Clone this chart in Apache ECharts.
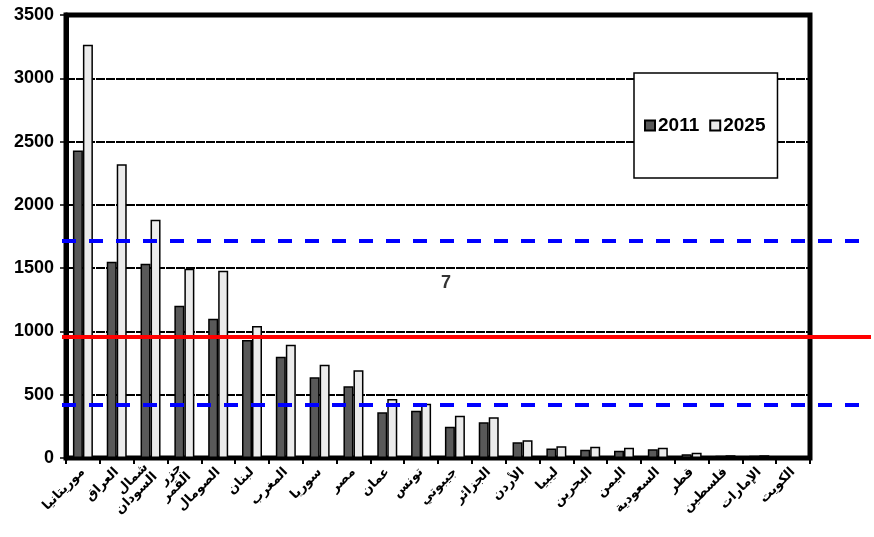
<!DOCTYPE html>
<html>
<head>
<meta charset="utf-8">
<script src="https://cdn.jsdelivr.net/npm/echarts@6/dist/echarts.min.js"></script>
<style>
html,body{margin:0;padding:0;background:#fff;}
#main{width:874px;height:537px;}
</style>
</head>
<body>
<div id="main"></div>
<script>
const categories = ['موريتانيا','العراق','شمال السودان','جزر القمر','الصومال','لبنان','المغرب','سوريا','مصر','عمان','تونس','جيبوتي','الجزائر','الأردن','ليبيا','البحرين','اليمن','السعودية','قطر','فلسطين','الإمارات','الكويت'];
const values2011 = [2430,1550,1535,1203,1100,932,800,637,566,361,374,247,282,124,76,66,58,69,29,18,18,3];
const values2025 = [3265,2320,1882,1495,1480,1043,895,737,693,466,429,334,321,140,92,89,81,81,42,22,22,5];
const meanValue = 956;
const bandValues = [1714, 419];
const noteText = '7';
const noteValue = 1382;

const chart = echarts.init(document.getElementById('main'));
const option = {
  animation: false,
  backgroundColor: '#fff',
  grid: { left: 66, right: 64, top: 15, bottom: 79, show: true, borderColor: '#000', borderWidth: 5, backgroundColor: 'transparent' },
  legend: {
    data: ['2011', '2025'],
    left: 634, top: 73,
    orient: 'horizontal',
    icon: 'rect', itemWidth: 10, itemHeight: 10, itemGap: 10,
    backgroundColor: '#fff', borderColor: '#000', borderWidth: 1.5,
    padding: [43, 12, 43, 10],
    textStyle: { fontFamily: 'Liberation Sans', fontWeight: 'bold', fontSize: 19, color: '#000', padding: [0, 0, 0, -2] }
  },
  xAxis: {
    type: 'category', data: categories,
    axisLine: { lineStyle: { color: '#000', width: 4 } },
    axisTick: { show: true, length: 6, lineStyle: { color: '#000', width: 2 } },
    axisLabel: {
      interval: 0, rotate: 45, margin: 12,
      fontFamily: 'DejaVu Sans', fontWeight: 'bold', fontSize: 13, color: '#000',
      formatter: v => v.replace(' ', '\n')
    }
  },
  yAxis: {
    type: 'value', min: 0, max: 3500, interval: 500,
    axisLine: { show: true, lineStyle: { color: '#000', width: 5 } },
    axisTick: { show: true, length: 6, lineStyle: { color: '#000', width: 1.5 } },
    axisLabel: { fontFamily: 'Liberation Sans', fontWeight: 'bold', fontSize: 18, color: '#000', margin: 12, formatter: v => String(v) },
    splitLine: { show: true, lineStyle: { color: '#000', width: 2, type: [9, 1] } }
  },
  series: [
    { name: '2011', type: 'bar', data: values2011, barWidth: 10, barGap: '0%',
      itemStyle: { color: '#595959', borderColor: '#000', borderWidth: 1.5 } },
    { name: '2025', type: 'bar', data: values2025, barWidth: 10,
      itemStyle: { color: '#ebebeb', borderColor: '#000', borderWidth: 1.5 } }
  ]
};
chart.setOption(option);

const yMean = chart.convertToPixel({ yAxisIndex: 0 }, meanValue);
const graphics = [];
bandValues.forEach(v => {
  const y = chart.convertToPixel({ yAxisIndex: 0 }, v);
  graphics.push({ type: 'line', z: 50, shape: { x1: 62, y1: y, x2: 862, y2: y },
    style: { stroke: '#0000ff', lineWidth: 4, lineDash: [14, 13] } });
});
graphics.push({ type: 'line', z: 51, shape: { x1: 62, y1: yMean, x2: 871, y2: yMean },
  style: { stroke: '#ff0000', lineWidth: 4 } });
const noteY = chart.convertToPixel({ yAxisIndex: 0 }, noteValue);
const noteX = (chart.convertToPixel({ xAxisIndex: 0 }, categories[10]) + chart.convertToPixel({ xAxisIndex: 0 }, categories[11])) / 2;
graphics.push({ type: 'text', z: 52, x: noteX + 8, y: noteY,
  style: { text: noteText, font: 'bold 18px "Liberation Sans"', fill: '#333', align: 'center', verticalAlign: 'middle' } });
chart.setOption({ graphic: graphics });
</script>
</body>
</html>
